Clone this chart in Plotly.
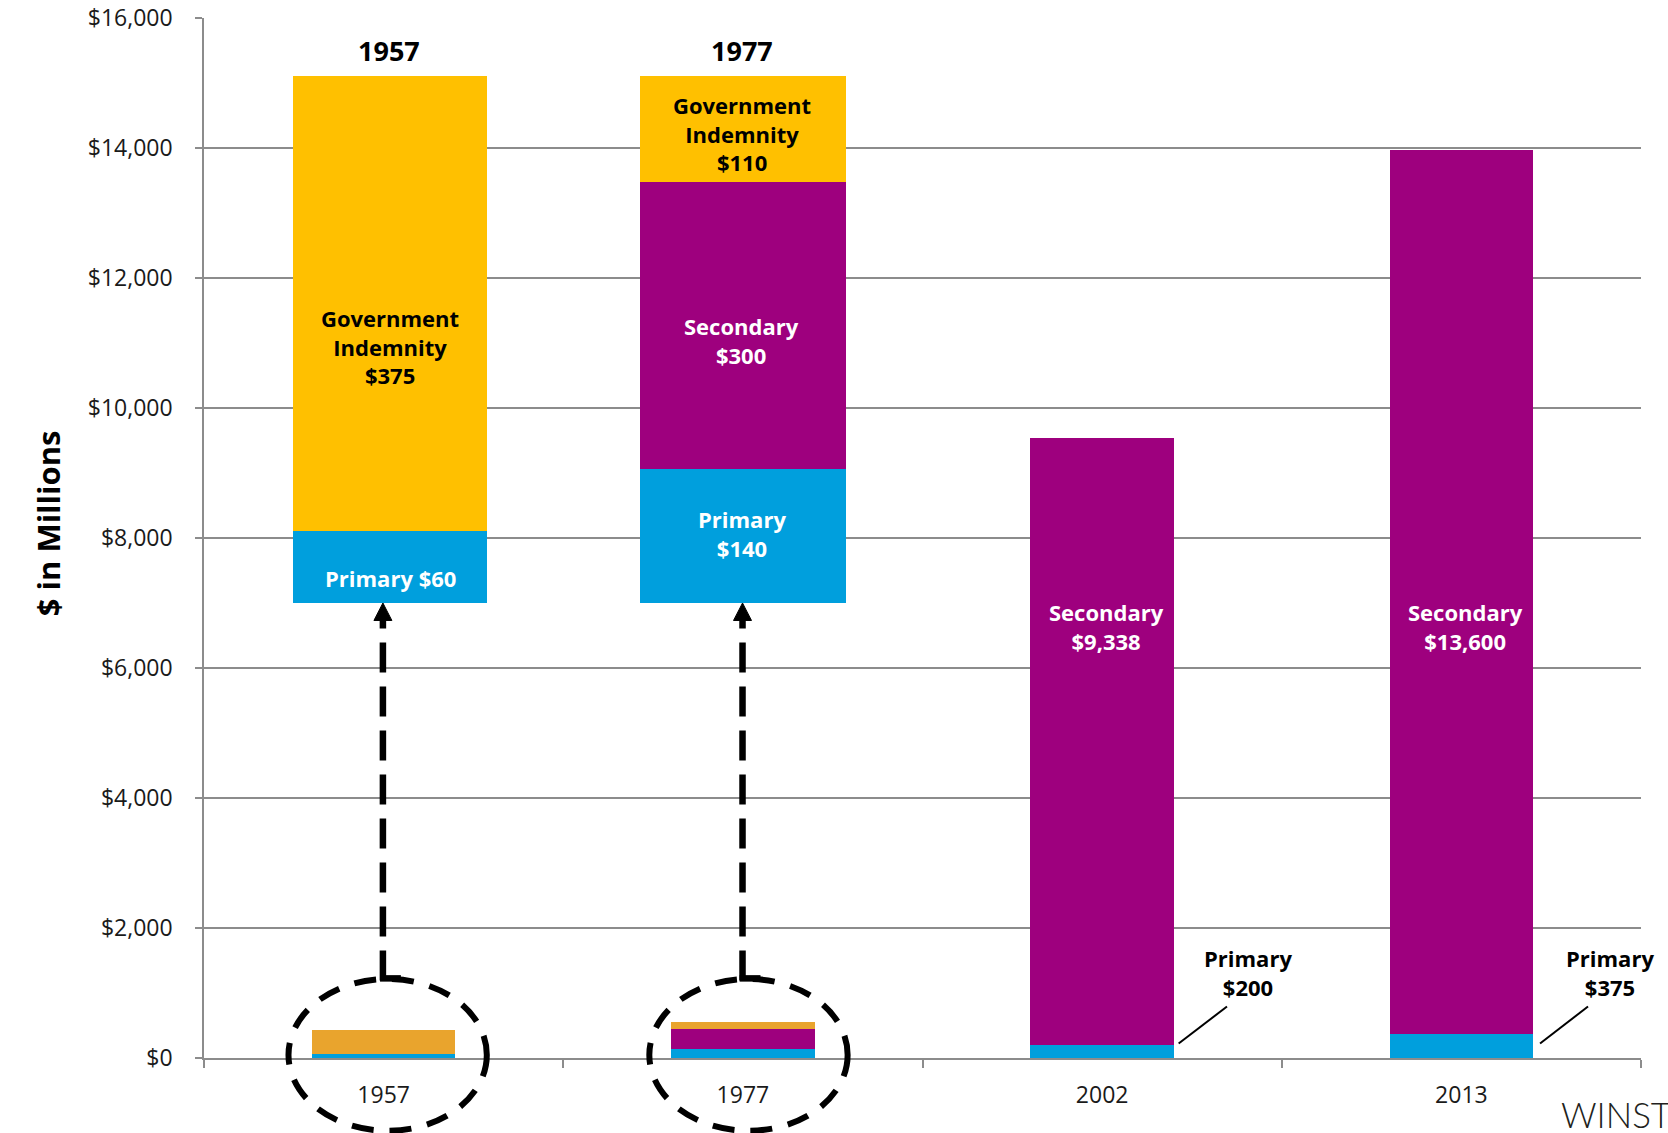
import plotly.graph_objects as go

# ---------------- data ----------------
years = ["1957", "1977", "2002", "2013"]
primary = [60, 140, 200, 375]
secondary = [None, 300, 9338, 13600]
gov_indemnity = [375, 110, None, None]

y_ticks = [0, 2000, 4000, 6000, 8000, 10000, 12000, 14000, 16000]
y_tick_labels = [f"${v:,}" for v in y_ticks]

# ---------------- styles ----------------
BLUE = "#009FDD"
PURPLE = "#9E007E"
GOLD = "#FFC000"
GOLD_SMALL = "#E9A42D"
GRID = "#8C8C8C"
FONT = "Open Sans"

YMAX = 16000
INSET_BASE = 7000      # where the magnified bars start (main axis units)
INSET_TOP = 15115      # where the magnified bars end (main axis units)

fig = go.Figure()

# main stacked bars
fig.add_trace(go.Bar(x=years, y=primary, marker_color=BLUE, width=0.4, name="Primary"))
fig.add_trace(go.Bar(x=years, y=secondary, marker_color=PURPLE, width=0.4, name="Secondary"))
fig.add_trace(go.Bar(x=years, y=gov_indemnity, marker_color=GOLD_SMALL, width=0.4,
                     name="Government Indemnity"))

# magnified 1957 bar (own hidden axis y2)
fig.add_trace(go.Bar(x=[years[0]], y=[primary[0]], marker_color=BLUE, width=0.54,
                     offset=-0.252, yaxis="y2"))
fig.add_trace(go.Bar(x=[years[0]], y=[gov_indemnity[0]], marker_color=GOLD, width=0.54,
                     offset=-0.252, yaxis="y2"))

# magnified 1977 bar (own hidden axis y3)
fig.add_trace(go.Bar(x=[years[1]], y=[primary[1]], marker_color=BLUE, width=0.573,
                     offset=-0.287, yaxis="y3"))
fig.add_trace(go.Bar(x=[years[1]], y=[secondary[1]], marker_color=PURPLE, width=0.573,
                     offset=-0.287, yaxis="y3"))
fig.add_trace(go.Bar(x=[years[1]], y=[gov_indemnity[1]], marker_color=GOLD, width=0.573,
                     offset=-0.287, yaxis="y3"))

total_1957 = primary[0] + gov_indemnity[0]
total_1977 = primary[1] + secondary[1] + gov_indemnity[1]
inset_domain = [INSET_BASE / YMAX, INSET_TOP / YMAX]

fig.update_traces(showlegend=False, hoverinfo="skip", marker_line_width=0)

# ---------------- annotations ----------------
def money(v):
    return f"${v:,}"

ann = []
def label(x, y, text, color, size=22, bold=True, xshift=0, **kw):
    t = f"<b>{text}</b>" if bold else text
    ann.append(dict(x=x, y=y, xref="x", yref="y", text=t, showarrow=False,
                    font=dict(family=FONT, size=size, color=color), xshift=xshift,
                    align="center", **kw))

# headers above magnified bars
label(0.016, 15500, years[0], "black", size=27)
label(0.997, 15500, years[1], "black", size=27)

# 1957 magnified labels
label(0.018, 10946, f"Government<br>Indemnity<br>{money(gov_indemnity[0])}", "black")
label(0.018, 7380, f"Primary {money(primary[0])}", "white")

# 1977 magnified labels
label(0.997, 14230, f"Government<br>Indemnity<br>{money(gov_indemnity[1])}", "black")
label(0.997, 11031, f"Secondary<br>{money(secondary[1])}", "white")
label(0.997, 8069, f"Primary<br>{money(primary[1])}", "white")

# 2002 / 2013 secondary
label(2.011, 6640, f"Secondary<br>{money(secondary[2])}", "white")
label(3.011, 6640, f"Secondary<br>{money(secondary[3])}", "white")

# primary callouts
label(2.406, 1310, f"Primary<br>{money(primary[2])}", "black")
label(3.413, 1310, f"Primary<br>{money(primary[3])}", "black")

# y axis title
ann.append(dict(x=-0.124, y=0.514, xref="paper", yref="paper", text="<b>$ in Millions</b>",
                textangle=-90, showarrow=False,
                font=dict(family=FONT, size=31, color="black")))

# logo (cut off at the right edge, as in the original)
ann.append(dict(x=0.943, y=-0.0538, xref="paper", yref="paper", text="WINSTON",
                xanchor="left", yanchor="middle", showarrow=False,
                font=dict(family="Lato", size=35, color="#231F20", weight=300)))

# ---------------- shapes ----------------
shapes = []
# dashed ellipses around the small bars
for cx in (0.1278, 0.3789):
    shapes.append(dict(type="circle", xref="paper", yref="paper",
                       x0=cx - 0.069, x1=cx + 0.069, y0=-0.07, y1=0.076,
                       line=dict(color="black", width=6, dash="22px,16px"),
                       fillcolor="rgba(0,0,0,0)", layer="above"))
# dashed arrows pointing to the magnified bars
for xi in (-0.002, 0.999):
    shapes.append(dict(type="line", xref="x", yref="y", x0=xi, x1=xi, y0=1192, y1=6731,
                       line=dict(color="black", width=6.5, dash="30px,14px")))
    shapes.append(dict(type="line", xref="x", yref="y", x0=xi - 0.008, x1=xi + 0.05,
                       y0=1225, y1=1225, line=dict(color="black", width=6.5)))
    shapes.append(dict(type="path", xref="x", yref="y",
                       path=f"M {xi - 0.025} 6731 L {xi + 0.025} 6731 L {xi} {INSET_BASE} Z",
                       fillcolor="black", line=dict(color="black", width=1)))
# leader lines for primary callouts
for x0, x1 in ((2.213, 2.3476), (3.219, 3.3525)):
    shapes.append(dict(type="line", xref="x", yref="y", x0=x0, x1=x1, y0=223, y1=792,
                       line=dict(color="black", width=2)))

fig.update_layout(
    width=1668, height=1133, autosize=False,
    margin=dict(l=204, r=27, t=18, b=75, autoexpand=False),
    paper_bgcolor="white", plot_bgcolor="rgba(0,0,0,0)",
    barmode="stack", bargap=0,
    showlegend=False,
    font=dict(family=FONT, size=23, color="#1A1A1A"),
    xaxis=dict(type="category", categoryorder="array", categoryarray=years,
               range=[-0.5, 3.5], tickson="boundaries", ticks="outside", ticklen=8,
               tickcolor=GRID, tickwidth=1.5, showline=True, linecolor=GRID, linewidth=1.5,
               showgrid=False, tickfont=dict(family=FONT, size=23, color="#1A1A1A"),
               ticklabelstandoff=16, automargin=False),
    yaxis=dict(range=[0, YMAX], tickvals=y_ticks, ticktext=y_tick_labels,
               showgrid=True, gridcolor=GRID, gridwidth=1.5, zeroline=False,
               showline=True, linecolor=GRID, linewidth=1.5,
               ticks="outside", ticklen=7, tickcolor=GRID, tickwidth=1.5,
               tickfont=dict(family=FONT, size=23, color="#1A1A1A"),
               ticklabelstandoff=18, automargin=False),
    yaxis2=dict(domain=inset_domain, anchor="x", range=[0, total_1957], visible=False,
                fixedrange=True, automargin=False),
    yaxis3=dict(domain=inset_domain, anchor="x", range=[0, total_1977], visible=False,
                fixedrange=True, automargin=False),
    annotations=ann,
    shapes=shapes,
)

fig.write_html("out.html", config={"displayModeBar": False},
               post_script="document.body.style.margin='0';document.body.style.overflow='hidden';")
